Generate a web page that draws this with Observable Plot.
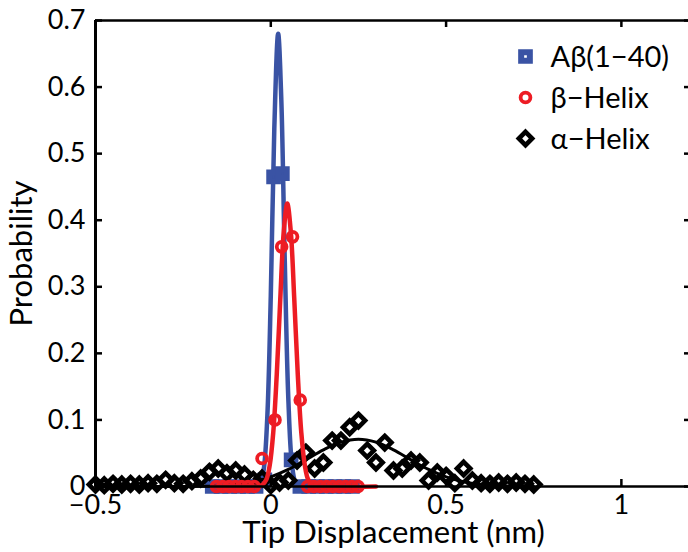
<!DOCTYPE html>
<html>
<head>
<meta charset="utf-8">
<script src="https://cdn.jsdelivr.net/npm/d3@7"></script>
<script src="https://cdn.jsdelivr.net/npm/@observablehq/plot@0.6"></script>
<style>
  html, body { margin: 0; padding: 0; background: #fff; }
  #chart svg { display: block; }
</style>
</head>
<body>
<div id="chart"></div>
<script>
// ---- tick labels ----
const xTicks = [-0.5, 0, 0.5, 1];
const yTicks = [0, 0.1, 0.2, 0.3, 0.4, 0.5, 0.6, 0.7];

// ---- series names ----
const seriesNames = ["Aβ(1−40)", "β−Helix", "α−Helix"];

// ---- Aβ(1-40) histogram points ----
const abX = [-0.167, -0.142, -0.117, -0.092, -0.067, -0.042, -0.017, 0.008, 0.033, 0.058, 0.083, 0.108, 0.133, 0.158, 0.183, 0.208, 0.233];
const abY = [0, 0, 0, 0, 0, 0, 0.01, 0.465, 0.47, 0.04, 0, 0, 0, 0, 0, 0, 0];
// ---- Aβ(1-40) fitted curve ----
const abFitX = [-0.15, -0.05, -0.04, -0.03, -0.02, -0.01, 0.0, 0.01, 0.021, 0.03, 0.04, 0.05, 0.06, 0.07, 0.08, 0.09, 0.2];
const abFitY = [0, 0, 0.0005, 0.0042, 0.026, 0.104, 0.287, 0.537, 0.68, 0.581, 0.336, 0.132, 0.035, 0.006, 0.0008, 0, 0];

// ---- β-Helix histogram points ----
const bhX = [-0.155, -0.137, -0.119, -0.101, -0.083, -0.065, -0.047, -0.025, 0.012, 0.031, 0.062, 0.084, 0.105, 0.123, 0.141, 0.159, 0.177, 0.195, 0.213, 0.231, 0.249];
const bhY = [0, 0, 0, 0, 0, 0, 0, 0.042, 0.10, 0.36, 0.375, 0.13, 0, 0, 0, 0, 0, 0, 0, 0, 0];
// ---- β-Helix fitted curve ----
const bhFitX = [-0.16, -0.04, -0.025, -0.013, -0.003, 0.007, 0.017, 0.027, 0.037, 0.047, 0.057, 0.067, 0.077, 0.087, 0.097, 0.107, 0.12, 0.135, 0.3];
const bhFitY = [0, 0, 0.002, 0.010, 0.032, 0.081, 0.168, 0.281, 0.383, 0.425, 0.383, 0.281, 0.168, 0.081, 0.032, 0.010, 0.002, 0, 0];

// ---- α-Helix histogram points ----
const ahX = [-0.5, -0.475, -0.45, -0.425, -0.4, -0.375, -0.35, -0.325, -0.3, -0.275, -0.25, -0.225, -0.2, -0.175, -0.15, -0.125, -0.1, -0.075, -0.05, -0.025,
             0, 0.025, 0.05, 0.075, 0.1, 0.125, 0.15, 0.175, 0.2, 0.225, 0.25, 0.275, 0.3, 0.325, 0.35, 0.375, 0.4, 0.425, 0.45, 0.475,
             0.5, 0.525, 0.55, 0.575, 0.6, 0.625, 0.65, 0.675, 0.7, 0.725, 0.75];
const ahY = [0.003, 0.002, 0.004, 0.003, 0.004, 0.003, 0.005, 0.004, 0.01, 0.005, 0.004, 0.008, 0.012, 0.022, 0.027, 0.02, 0.024, 0.018, 0.01, 0.012,
             0.002, 0.006, 0.009, 0.039, 0.051, 0.027, 0.036, 0.069, 0.069, 0.089, 0.099, 0.054, 0.036, 0.066, 0.024, 0.027, 0.039, 0.036, 0.009, 0.021,
             0.016, 0.005, 0.027, 0.009, 0.005, 0.004, 0.006, 0.004, 0.006, 0.004, 0.003];
// ---- α-Helix fitted curve ----
const ahFitX = [-0.5, -0.2, -0.15, -0.1, -0.05, 0, 0.05, 0.1, 0.15, 0.2, 0.25, 0.3, 0.35, 0.4, 0.45, 0.5, 0.55, 0.6, 0.65, 0.7, 0.75];
const ahFitY = [0, 0.0002, 0.0012, 0.0031, 0.0071, 0.0144, 0.0256, 0.040, 0.055, 0.0666, 0.071, 0.0666, 0.055, 0.040, 0.0256, 0.0144, 0.0071, 0.0031, 0.0012, 0.0004, 0.0001];

const BLUE = "#3a53a4", RED = "#ed1c24", BLACK = "#000000";
const zip = (xs, ys) => xs.map((x, i) => ({x, y: ys[i]}));
const ab = zip(abX, abY), abFit = zip(abFitX, abFitY);
const bh = zip(bhX, bhY), bhFit = zip(bhFitX, bhFitY);
const ah = zip(ahX, ahY), ahFit = zip(ahFitX, ahFitY);

const fmt = d => d < 0 ? "\u2212" + Math.abs(d) : String(d);
const FONT = "Lato";
const AX = 2.5;
const TICKFS = 27, TITLEFS = 31, LEGFS = 29;

const SQ = {symbol: "square", r: 4.9, sw: 6};
const CI = {symbol: "circle", r: 4.9, sw: 3.8};
const DI = {symbol: "diamond2", r: 6.0, sw: 4.6};

const legend = [
  {name: seriesNames[0], color: BLUE, ...SQ, dy: 36},
  {name: seriesNames[1], color: RED, ...CI, dy: 77},
  {name: seriesNames[2], color: BLACK, ...DI, dy: 118}
];

const chart = Plot.plot({
  width: 688,
  height: 552,
  marginLeft: 95,
  marginRight: -3,
  marginTop: 20,
  marginBottom: 66,
  style: {fontFamily: FONT, fontSize: TICKFS + "px", background: "#fff", color: "#000", overflow: "hidden"},
  x: {domain: [-0.5, 1.2]},
  y: {domain: [0, 0.7]},
  marks: [
    // Aβ(1-40)
    Plot.line(abFit, {x: "x", y: "y", stroke: BLUE, strokeWidth: 4.5, curve: "catmull-rom"}),
    Plot.dot(ab, {x: "x", y: "y", symbol: SQ.symbol, r: SQ.r, stroke: BLUE, strokeWidth: SQ.sw, fill: "none"}),
    // α-Helix
    Plot.line(ahFit, {x: "x", y: "y", stroke: BLACK, strokeWidth: 3, curve: "catmull-rom"}),
    Plot.dot(ah, {x: "x", y: "y", symbol: DI.symbol, r: DI.r, stroke: BLACK, strokeWidth: DI.sw, fill: "none"}),
    // β-Helix
    Plot.line(bhFit, {x: "x", y: "y", stroke: RED, strokeWidth: 4.5, curve: "catmull-rom"}),
    Plot.dot(bh, {x: "x", y: "y", symbol: CI.symbol, r: CI.r, stroke: RED, strokeWidth: CI.sw, fill: "none"}),
    // box lines
    Plot.ruleY([0], {stroke: BLACK, strokeWidth: AX}),
    Plot.ruleY([0.7], {stroke: BLACK, strokeWidth: AX}),
    Plot.ruleX([-0.5], {stroke: BLACK, strokeWidth: 3}),
    Plot.ruleX([1.2], {stroke: BLACK, strokeWidth: AX}),
    // inward ticks
    Plot.tickX(xTicks, {x: d => d, insetTop: 459, stroke: BLACK, strokeWidth: AX}),
    Plot.tickX(xTicks, {x: d => d, insetBottom: 459, stroke: BLACK, strokeWidth: AX}),
    Plot.tickY(yTicks, {y: d => d, insetRight: 589, stroke: BLACK, strokeWidth: AX}),
    Plot.tickY(yTicks, {y: d => d, insetLeft: 589, stroke: BLACK, strokeWidth: AX}),
    // tick labels
    Plot.axisX({ticks: xTicks, tickSize: 0, tickPadding: 8, tickFormat: fmt, label: null, fontSize: TICKFS}),
    Plot.axisY({ticks: yTicks, tickSize: 0, tickPadding: 10, tickFormat: fmt, label: null, fontSize: TICKFS}),
    // axis titles
    Plot.text(["Tip Displacement (nm)"], {frameAnchor: "bottom", dy: 47, text: d => d, fontSize: TITLEFS, textAnchor: "middle", lineAnchor: "middle"}),
    Plot.text(["Probability"], {frameAnchor: "left", dx: -73, rotate: -90, text: d => d, fontSize: TITLEFS, textAnchor: "middle", lineAnchor: "middle"}),
    // legend
    ...legend.map(l => Plot.dot([l], {frameAnchor: "top-left", dx: 430, dy: l.dy, symbol: l.symbol, r: l.r, stroke: l.color, strokeWidth: l.sw, fill: "none"})),
    ...legend.map(l => Plot.text([l], {frameAnchor: "top-left", dx: 455, dy: l.dy + 1, text: "name", textAnchor: "start", lineAnchor: "middle", fontSize: LEGFS}))
  ]
});
document.getElementById("chart").appendChild(chart);
</script>
</body>
</html>
